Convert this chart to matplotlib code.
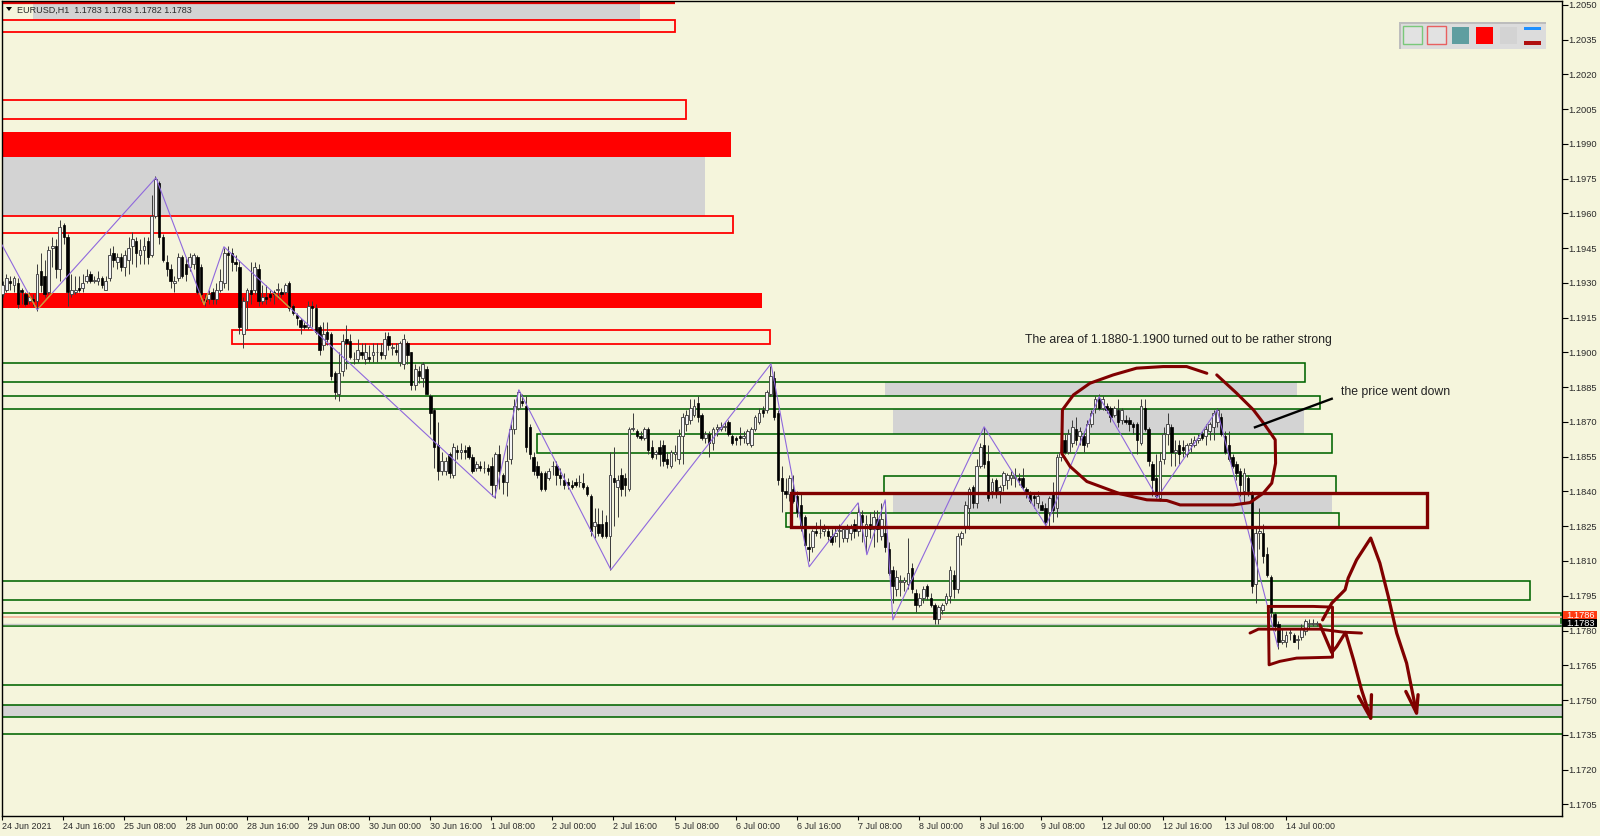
import numpy as np
import matplotlib
matplotlib.use("Agg")
import matplotlib.pyplot as plt
from matplotlib.patches import Rectangle, Polygon
from matplotlib.transforms import ScaledTranslation

plt.rcParams['font.family'] = ['Liberation Sans', 'DejaVu Sans']

# ---- data: hourly candles, in 1/10000 of a price unit ----
opens = [11925,11927,11931,11929,11930,11927,11925,11922,11923,11922,
11935,11933,11926,11945,11946,11936,11955,11950,11925,11926,
11928,11928,11931,11934,11931,11931,11932,11927,11932,11943,
11939,11941,11937,11940,11946,11948,11942,11944,11948,11942,
11959,11973,11950,11939,11936,11930,11932,11941,11938,11937,
11938,11941,11937,11923,11923,11926,11923,11927,11930,11943,
11943,11939,11937,11908,11922,11927,11927,11936,11922,11924,
11925,11926,11927,11926,11926,11930,11920,11916,11914,11912,
11911,11920,11919,11911,11903,11909,11908,11891,11882,11892,
11906,11905,11897,11897,11900,11897,11898,11899,11900,11900,
11899,11907,11902,11901,11896,11895,11904,11900,11886,11892,
11889,11893,11881,11875,11860,11849,11849,11856,11847,11858,
11857,11858,11859,11855,11850,11851,11850,11850,11851,11843,
11856,11847,11844,11854,11867,11876,11879,11877,11868,11855,
11851,11848,11848,11846,11851,11851,11847,11845,11844,11843,
11844,11844,11843.5,11842,11838,11825,11826,11826,11827,11821,
11846,11842,11847,11846,11841,11867,11866,11864,11863,11867,
11859,11856,11859,11860,11854,11851,11856,11854,11864,11869,
11871,11873,11878,11873,11863,11865,11861,11867,11867,11868,
11870,11864,11863,11864,11863,11861,11860,11867,11870,11875,
11875,11882,11889,11874,11846,11840,11839,11841,11838,11834,
11829,11816,11816,11823,11822,11823,11823,11821,11821,11823,
11820,11820,11822,11826,11823,11830,11821,11826,11824,11828,
11821,11822,11815,11806,11798,11801,11801,11800,11807,11796,
11791,11794,11799,11794,11791,11785,11789,11792,11795,11804,
11798,11820,11825,11833,11842,11835,11851,11860,11853,11840,
11845,11840,11843,11845,11846,11846,11846,11846,11841,11839,
11838,11835,11834,11833,11831,11839,11833,11855,11862,11857,
11861,11867,11864,11864,11861,11869,11876,11880,11876,11877,
11876,11873,11875,11871,11871,11871,11869,11869,11861,11876,
11867,11852,11846,11837,11854,11865,11868,11857,11860,11859,
11856,11860,11860,11862,11865,11864,11866,11868,11870,11872,
11864,11860,11855,11852,11849,11840,11846,11839,11800,11822,
11822,11813,11803,11787,11783,11775,11775,11779,11778,11776,
11777,11780,11783,11783,11783]
closes = [11929,11932,11930,11932,11921,11926,11921,11924,11922,11934,
11929,11925,11944,11946,11936,11954,11950,11926,11927,11927,
11927,11930,11933,11931,11931,11932,11929,11931,11942,11940,
11941,11937,11942,11945,11949,11943,11944,11946,11941,11959,
11975,11950,11940,11936,11931,11931,11941,11933,11934,11941,
11942,11926,11925,11922,11925,11923,11927,11931,11943,11942,
11939,11938,11911,11922,11927,11925,11937,11922,11924,11923,
11924,11925,11927,11925,11929,11919,11917,11915,11911,11911,
11920,11919,11909,11901,11908,11906,11890,11883,11891,11905,
11904,11898,11897,11901,11899,11900,11897,11900,11900,11899,
11906,11903,11902,11900,11904,11906,11899,11886,11893,11890,
11895,11882,11874,11859,11849,11853,11853,11848,11859,11857,
11858,11857,11855,11849,11852,11850,11850,11849,11843,11856,
11849,11844,11853,11867,11877,11883,11878,11859,11856,11849,
11847,11841,11841,11849,11851,11847,11846,11843,11843,11842,
11843,11844,11842,11839,11823,11827,11822,11821,11821,11847,
11844,11845,11841,11843,11867,11867,11864,11863,11867,11858,
11855,11857,11856,11853,11852,11857,11857,11864,11872,11873,
11876,11877,11872,11863,11865,11861,11867,11868,11868,11868,
11865,11861,11862,11863,11864,11866,11867,11872,11874,11874,
11883,11890,11872,11845,11840,11839,11846,11836,11831,11825,
11817,11815,11823,11822,11822,11824,11821,11818,11822,11823,
11824,11824,11825,11823,11831,11827,11826,11824,11829,11824,
11828,11816,11805,11799,11803,11801,11802,11805,11798,11791,
11794,11798,11795,11791,11785,11790,11791,11795,11806,11798,
11821,11822,11834,11841,11835,11851,11859,11852,11837,11844,
11840,11842,11848,11847,11847,11846,11845,11842,11839,11836,
11837,11838,11832,11827,11837,11832,11855,11857,11857,11865,
11868,11862,11866,11860,11869,11874,11880,11876,11880,11875,
11872,11876,11870,11875,11870,11869,11868,11862,11877,11867,
11853,11845,11838,11853,11865,11869,11857,11858,11856,11858,
11860,11861,11862,11863,11863,11867,11869,11874,11875,11865,
11857,11854,11851,11848,11843,11848,11840,11799,11822,11823,
11812,11804,11788,11782,11775,11776,11778,11779,11775,11776,
11781,11784,11783,11783,11783]
highs = [11931,11934,11933,11933,11932,11928,11926,11926,11925,11938,
11943,11940,11946,11950,11949,11957,11956,11951,11934,11933,
11933,11934,11936,11935,11933,11935,11933,11933,11945,11946,
11943,11943,11944,11950,11952,11950,11949,11950,11950,11968,
11976,11974,11951,11942,11938,11933,11943,11942,11941,11943,
11943,11942,11938,11925,11927,11928,11930,11936,11945,11946,
11945,11942,11940,11924,11928,11939,11939,11938,11929,11929,
11927,11927,11930,11928,11930,11931,11921,11917,11915,11913,
11922,11922,11921,11912,11913,11913,11909,11892,11900,11908,
11912,11908,11900,11906,11904,11904,11903,11904,11904,11904,
11909,11909,11904,11904,11905,11908,11905,11900,11895,11894,
11896,11894,11882,11876,11870,11857,11855,11857,11861,11860,
11861,11860,11860,11856,11853,11853,11853,11852,11855,11857,
11860,11848,11860,11869,11880,11884,11882,11881,11869,11857,
11853,11849,11849,11850,11853,11853,11850,11848,11846,11845,
11846,11847,11848,11843,11839,11833,11833,11832,11830,11857,
11859,11847,11850,11848,11868,11874,11867,11866,11868,11868,
11862,11858,11862,11862,11857,11858,11860,11867,11874,11875,
11880,11880,11881,11874,11866,11866,11868,11869,11870,11870,
11871,11865,11864,11868,11866,11867,11868,11873,11876,11877,
11884,11894,11892,11875,11851,11846,11847,11847,11840,11839,
11830,11822,11824,11827,11828,11826,11825,11824,11825,11826,
11825,11826,11826,11828,11835,11832,11830,11831,11832,11832,
11835,11836,11818,11808,11806,11804,11803,11820,11809,11798,
11796,11799,11800,11796,11792,11791,11792,11796,11808,11806,
11822,11823,11836,11842,11843,11854,11861,11868,11860,11846,
11846,11843,11849,11848,11849,11850,11848,11850,11842,11840,
11839,11840,11836,11835,11838,11844,11856,11860,11865,11867,
11871,11872,11868,11866,11871,11875,11881,11882,11881,11878,
11877,11877,11880,11876,11873,11872,11870,11870,11880,11880,
11868,11853,11856,11857,11868,11874,11869,11862,11862,11862,
11861,11863,11864,11865,11866,11869,11870,11875,11876,11874,
11866,11866,11856,11853,11850,11850,11847,11840,11825,11833,
11826,11816,11804,11788,11784,11781,11780,11781,11779,11778,
11783,11785,11785,11785,11784]
lows = [11924,11926,11927,11926,11919,11921,11920,11921,11920,11918,
11926,11924,11925,11937,11932,11931,11947,11920,11924,11925,
11926,11926,11930,11930,11930,11929,11928,11927,11931,11937,
11936,11935,11933,11934,11938,11937,11938,11938,11938,11941,
11958,11947,11939,11933,11928,11926,11931,11932,11931,11935,
11936,11925,11922,11920,11921,11921,11921,11926,11928,11927,
11935,11935,11908,11902,11910,11921,11925,11920,11921,11921,
11922,11921,11923,11924,11925,11918,11916,11912,11908,11910,
11910,11911,11908,11899,11901,11903,11888,11880,11879,11890,
11893,11897,11895,11896,11897,11895,11896,11896,11896,11897,
11897,11901,11899,11899,11894,11893,11895,11884,11884,11887,
11885,11882,11865,11850,11845,11847,11847,11846,11846,11854,
11854,11854,11854,11848,11849,11849,11848,11847,11838,11837,
11841,11839,11838,11852,11865,11875,11877,11857,11854,11847,
11846,11840,11840,11845,11847,11843,11843,11841,11841,11841,
11842,11842,11841,11838,11821,11820,11821,11820,11820,11806,
11825,11829,11838,11838,11840,11866,11863,11862,11862,11856,
11854,11854,11851,11851,11850,11850,11853,11852,11852,11866,
11869,11872,11870,11862,11861,11855,11858,11864,11866,11866,
11864,11860,11860,11860,11861,11860,11859,11866,11869,11872,
11874,11881,11871,11843,11831,11837,11836,11835,11829,11823,
11816,11810,11814,11821,11820,11821,11819,11817,11818,11816,
11818,11818,11819,11820,11821,11818,11814,11820,11816,11818,
11819,11814,11804,11792,11795,11795,11797,11798,11796,11788,
11790,11792,11793,11790,11783,11783,11787,11791,11792,11794,
11796,11817,11822,11824,11833,11833,11850,11850,11836,11837,
11837,11835,11840,11841,11843,11842,11843,11841,11837,11835,
11833,11833,11832,11825.5,11825,11827,11829,11853,11856,11856,
11859,11860,11860,11857,11859,11868,11874,11875,11875,11874,
11870,11872,11868,11869,11869,11866,11865,11856,11860,11866,
11851,11838,11837,11836,11852,11860,11851,11851,11852,11855,
11855,11857,11859,11861,11862,11860,11862,11862,11868,11864,
11856,11853,11850,11845,11838,11835,11838,11796,11792,11815,
11809,11803,11786,11780,11772,11774,11773,11776,11775,11772,
11776,11778,11781,11782,11782]

time_labels = ['24 Jun 2021','24 Jun 16:00','25 Jun 08:00','28 Jun 00:00','28 Jun 16:00',
 '29 Jun 08:00','30 Jun 00:00','30 Jun 16:00','1 Jul 08:00','2 Jul 00:00','2 Jul 16:00',
 '5 Jul 08:00','6 Jul 00:00','6 Jul 16:00','7 Jul 08:00','8 Jul 00:00','8 Jul 16:00',
 '9 Jul 08:00','12 Jul 00:00','12 Jul 16:00','13 Jul 08:00','14 Jul 00:00']
bars_per_label = 16

zig_bar = [0,9.2,40.3,52.9,58.1,129,135.3,159.4,201.3,211.3,224.1,226.4,231.2,233.2,257.1,273.3,287.2,302.4,318.1,334]
zig_px  = [11946.4,11918.4,11975.4,11920.6,11945.6,11837.3,11883.9,11806.2,11895.1,11807.5,11835.1,11812.7,11836.4,11784.6,11867.9,11825.2,11880.9,11837.3,11875.2,11773]

# zones: (bar from, bar to, low, high)
top_line = (-1,176.2,12050.9)
red_outline = [(-1,176.2,12038.3,12043.5),(-1,179.1,12000.8,12009),
               (-1,191.4,11951.6,11959),(60.2,201,11903.7,11909.8)]
red_fill = [(-1,190.8,11984.4,11995.2),(-1,199,11919.3,11925.7)]
gray_fill = [(8.1,167,12043.5,12050.5),(-1,184,11959,11984.4),(231.2,339,11881.3,11887.3),
             (233.2,340.8,11864.9,11875.7),(233.2,348.2,11830.8,11839.4),(-1,410,11742.8,11748)]
green_outline = [(-1,341.1,11887.3,11895.5),(-1,345,11875.7,11881.3),(140,348.2,11856.7,11864.9),
                 (230.9,349.2,11839.4,11846.8),(205.2,350,11824.5,11830.8),(-1,400,11793.3,11801.5),
                 (-1,408.1,11782,11787.6),(-1,410,11748,11756.6),(-1,410,11735.4,11742.8)]
maroon_box = (206.5,373,11824.5,11839.4)
ask_price, bid_price = 1.1786, 1.1783

circle_bar = [318,323.2,327.6,330.6,333.3,333.4,332.4,330.2,326.7,322.3,308.4,304.9,299.7,292.7,284,279.6,277.4,277.6,280.5,284.8,290.9,297,304,310.1,315.4]
circle_px  = [11890.3,11882.4,11875.2,11868.7,11862.3,11852.2,11843.6,11839.3,11835.2,11834.2,11834.2,11836.1,11836.4,11839,11844.3,11850.8,11856.5,11875.2,11881.7,11886.7,11890.3,11893.2,11893.9,11893.9,11891]
pointer_bar, pointer_px = [328,348.1],[11867.7,11880]
box_bar = [331.5,343.3,348.3,348.3,338.9,334.5,331.7,331.5]
box_px  = [11790.4,11790.4,11790.1,11768.5,11768.1,11766.7,11765.2,11790.4]
hline_bar = [326.7,328.9,345,351.1,355.9]
hline_px  = [11778.9,11780.6,11780.6,11779.3,11778.9]
down_bar = [345,348.1,349.4,351.7,353.8,355.9,358.3]
down_px  = [11782.5,11770.5,11773.1,11779.2,11767.4,11754.4,11742.2]
head1_bar, head1_px = [355.1,358.3,358.5],[11751.6,11742.2,11752.3]
big_bar = [345.7,348.1,351.6,352.4,354.6,358.3,360.7,362.9,365.1,367.7,370.3]
big_px  = [11784.6,11791.8,11797.6,11802.6,11810.5,11819.9,11809.1,11794.7,11778.9,11765.9,11744.4]
head2_bar, head2_px = [367.5,370.3,370.7],[11753.7,11744.4,11752.3]

W, H = 1600, 837
BG = '#f5f5dc'; MAROON = '#800000'; GREEN = '#006400'; TXT = '#2a2a2a'
fig = plt.figure(figsize=(W/100, H/100), dpi=100, facecolor=BG)
L, R, T, B = 2, 1562, 2, 817
Y0 = 5.8
ax = fig.add_axes([L/W, 1-B/H, (R-L)/W, (B-T)/H], facecolor=BG)
ax.set_xlim(0, (R-L)/3.82)
ax.set_ylim(1.2050-(B-Y0)*0.00004315, 1.2050+(Y0-T)*0.00004315)

def P(v): return np.asarray(v, float)/10000
def zone(z, **kw):
    x0,x1,p0,p1 = z
    return ax.add_patch(Rectangle((x0,p0/10000), x1-x0, (p1-p0)/10000, **kw))

for z in gray_fill: zone(z, fc='#d3d3d3', ec='none', zorder=1)
band = None
for z in red_fill:
    r = zone(z, fc='#ff0000', ec='none', zorder=1)
    if z[3] < 11930: band = r
ax.hlines(top_line[2]/10000, top_line[0], top_line[1], color='#e00000', lw=1.6, zorder=2)
for z in red_outline: zone(z, fc='none', ec='#ff0000', lw=1.3, zorder=2)
for z in green_outline: zone(z, fc='none', ec=GREEN, lw=1.15, zorder=2)
ax.axhline(ask_price, color='#f4b8a0', lw=1.4, zorder=2)
ax.axhline(bid_price, color='#c8c8c8', lw=1.0, zorder=2)

o,c,h,l = P(opens),P(closes),P(highs),P(lows)
x = np.arange(len(o))+0.15
ax.vlines(x, l, h, color='#3a3a3a', lw=0.7, zorder=3)
up = c >= o
bot = np.minimum(o,c); ht = np.maximum(np.abs(c-o), 0.00002)
ax.bar(x[up], ht[up], bottom=bot[up], width=0.72, fc='#f4f4f4', ec='#444444', lw=0.65, zorder=4)
ax.bar(x[~up], ht[~up], bottom=bot[~up], width=0.62, fc='#000000', ec='#000000', lw=0.5, zorder=4)

ax.plot(zig_bar, P(zig_px), color='#8f68dc', lw=0.8, zorder=5)
zo, = ax.plot(zig_bar, P(zig_px), color='#d8a020', lw=0.9, zorder=5)
zo.set_clip_path(band)

zone(maroon_box, fc='none', ec=MAROON, lw=2.4, zorder=7)
for xs, ys, lw in [(circle_bar,circle_px,2.2),(box_bar,box_px,2.1),(hline_bar,hline_px,2.1),
                   (down_bar,down_px,2.3),(head1_bar,head1_px,2.4),(big_bar,big_px,2.3),(head2_bar,head2_px,2.4)]:
    ax.plot(xs, P(ys), color=MAROON, lw=lw, zorder=7, solid_joinstyle='round', solid_capstyle='round')
ax.plot(pointer_bar, P(pointer_px), color='black', lw=1.7, zorder=7)

ax.text(267.8, 1.19059, 'The area of 1.1880-1.1900 turned out to be rather strong', fontsize=8.8, va='center', ha='left', color='#222222', zorder=8)
ax.text(350.5, 1.18834, 'the price went down', fontsize=8.85, va='center', ha='left', color='#222222', zorder=8)

# axes
for s in ('left','top','right','bottom'):
    ax.spines[s].set_color('black'); ax.spines[s].set_linewidth(1.0)
ax.yaxis.tick_right()
yt = np.arange(1.1705, 1.20501, 0.0015)
ax.set_yticks(yt); ax.set_yticklabels([f'{v:.4f}' for v in yt], va='center_baseline')
ax.tick_params(axis='y', length=4, width=0.8, pad=0.5, labelsize=6.7, labelcolor=TXT, color='black')
up_1px = ScaledTranslation(0, 1/100, fig.dpi_scale_trans)
for lab in ax.get_yticklabels():
    lab.set_transform(lab.get_transform() + up_1px)
ax.set_xticks(np.arange(len(time_labels))*bars_per_label + 0.05)
ax.set_xticklabels(time_labels, ha='left')
ax.tick_params(axis='x', length=3, width=0.8, pad=0.9, labelsize=6.4, labelcolor=TXT, color='black')

# screen furniture, in figure pixels
def fr(px0, py0, px1, py1, **kw):
    fig.add_artist(Rectangle((px0/W, 1-py1/H), (px1-px0)/W, (py1-py0)/H, transform=fig.transFigure, **kw))
def ftext(px, py, s, **kw):
    fig.text(px/W, 1-py/H, s, **kw)

fr(1563,612,1597,620, fc='#ff3a10', ec='none', zorder=9)
fr(1563,620,1597,628, fc='#000000', ec='none', zorder=10)
ftext(1566,615.8,'1.1786', color='white', fontsize=6.7, va='center', zorder=11)
ftext(1566,623.8,'1.1783', color='white', fontsize=6.7, va='center', zorder=11)

fig.add_artist(Polygon([(6/W,1-8/H),(12/W,1-8/H),(9/W,1-12/H)], transform=fig.transFigure, fc='black', ec='none', zorder=9))
ftext(17,10.3,'EURUSD,H1  1.1783 1.1783 1.1782 1.1783', color=TXT, fontsize=6.45, va='center', zorder=9)

fr(1399,23,1546,50, fc='#dcdcdc', ec='none', zorder=9)
fr(1399,23,1546,25, fc='#bdbdbd', ec='none', zorder=9)
fr(1399,23,1401,50, fc='#bdbdbd', ec='none', zorder=9)
fr(1403,27,1422,45, fc='#e2e2e2', ec='#7ac87a', lw=1, zorder=10)
fr(1427,27,1446,45, fc='#e2e2e2', ec='#e86060', lw=1, zorder=10)
fr(1452,28,1469,45, fc='#5f9ea0', ec='none', zorder=10)
fr(1476,28,1493,45, fc='#ff0000', ec='none', zorder=10)
fr(1500,28,1517,45, fc='#d3d3d3', ec='none', zorder=10)
fr(1524,28,1541,31, fc='#1e90ff', ec='none', zorder=10)
fr(1524,42,1541,46, fc='#b01010', ec='none', zorder=10)

fig.savefig('out.png', dpi=100, facecolor=BG)
